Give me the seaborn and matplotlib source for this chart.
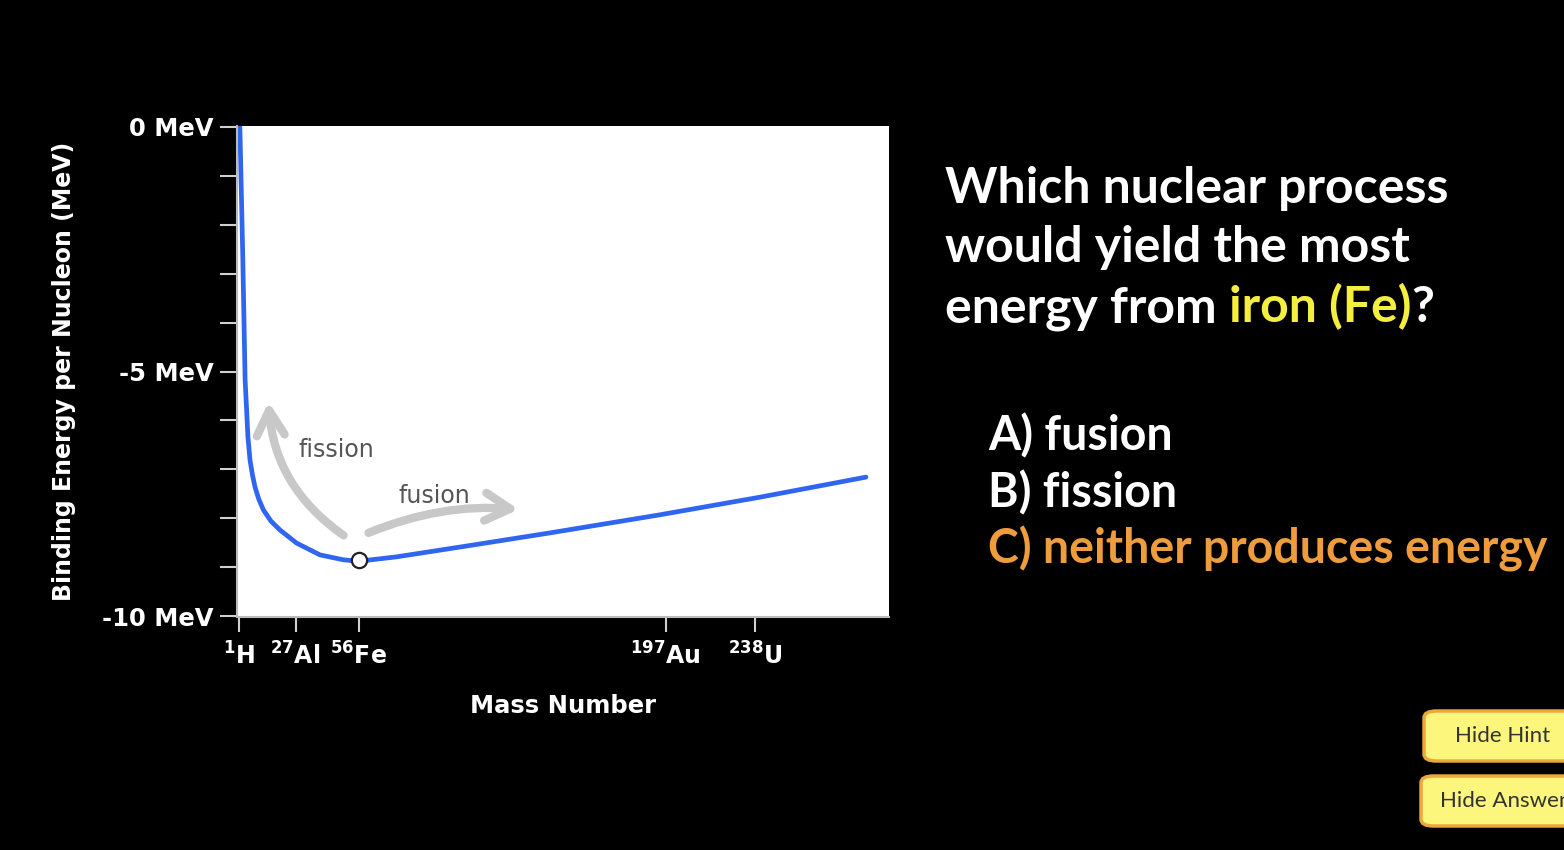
import matplotlib
matplotlib.use("Agg")
import matplotlib.pyplot as plt
from matplotlib.patches import FancyBboxPatch
import pandas as pd
import seaborn as sns

W, H = 1564, 850

# binding energy curve
mass_number = [1.4, 2.7, 3.8, 4.5, 5.1, 6.05, 7.2, 8.35, 10.0, 12.2, 15.7,
               19.8, 27.5, 38.2, 48.9, 56, 73.4, 103.9, 143.9, 194.4, 240.3, 289]
binding_energy = [0.0, -2.58, -5.17, -5.79, -6.34, -6.81, -7.12, -7.36, -7.6,
                  -7.83, -8.06, -8.24, -8.51, -8.75, -8.85, -8.88, -8.79,
                  -8.58, -8.30, -7.93, -7.57, -7.16]
iron_mass = 56
iron_energy = -8.86

tick_masses = [1, 27, 56, 197, 238]
tick_labels = [r"$^{1}$H", r"$^{27}$Al", r"$^{56}$Fe", r"$^{197}$Au", r"$^{238}$U"]
energy_ticks = list(range(0, -11, -1))
energy_labels = {0: "0 MeV", -5: "-5 MeV", -10: "-10 MeV"}

question_lines = ["Which nuclear process", "would yield the most"]
question_last = [("energy from", "white"), ("iron (Fe)", "#f4ef3e"), ("?", "white")]
options = ["A) fusion", "B) fission", "C) neither produces energy"]
option_colors = ["white", "white", "#ef9d3c"]
buttons = ["Hide Hint", "Hide Answer"]

sns.set_theme(style="white")
plt.rcParams["mathtext.default"] = "bf"

fig = plt.figure(figsize=(W / 100, H / 100), dpi=100, facecolor="black")
ax = fig.add_axes([237 / W, 1 - 617 / H, 652 / W, 491 / H])
ax.set_facecolor("white")

df = pd.DataFrame({"A": mass_number, "E": binding_energy})
sns.lineplot(data=df, x="A", y="E", ax=ax, color="#3066ef", linewidth=3.4,
             sort=False, estimator=None)
ax.plot([iron_mass], [iron_energy], marker="o", ms=11, mfc="white",
        mec="#222222", mew=1.6, zorder=5)

# fission / fusion arrows
arrow_kw = dict(arrowstyle="->,head_length=0.9,head_width=0.5", color="#c8c8c8",
                lw=6, mutation_scale=20, shrinkA=0, shrinkB=0,
                capstyle="round", joinstyle="round")
ax.annotate("", xy=(14.6, -5.62), xytext=(49.0, -8.35),
            arrowprops=dict(connectionstyle="arc3,rad=-0.24", **arrow_kw))
ax.annotate("", xy=(129.5, -7.82), xytext=(60.5, -8.3),
            arrowprops=dict(connectionstyle="arc3,rad=-0.12", **arrow_kw))
ax.text(45.6, -6.6, "fission", color="#555555", fontsize=17,
        ha="center", va="center")
ax.text(90.6, -7.55, "fusion", color="#555555", fontsize=17,
        ha="center", va="center")

ax.set_xlim(0.08, 299.6)
ax.set_ylim(-10.02, 0.02)
ax.set_xticks(tick_masses)
ax.set_xticklabels(tick_labels)
ax.set_yticks(energy_ticks)
ax.set_yticklabels([energy_labels.get(t, "") for t in energy_ticks])
ax.tick_params(axis="both", colors="#d0d0d0", labelcolor="white", width=1.5,
               direction="out")
ax.tick_params(axis="y", length=12, pad=5, left=True, labelsize=17.5)
ax.tick_params(axis="x", length=11, pad=7, bottom=True, labelsize=17)
for lab in ax.get_xticklabels() + ax.get_yticklabels():
    lab.set_fontweight("bold")

for side in ["top", "right"]:
    ax.spines[side].set_visible(False)
for side in ["left", "bottom"]:
    ax.spines[side].set_color("#bbbbbb")
    ax.spines[side].set_linewidth(1.5)

ax.set_xlabel("Mass Number", color="white", fontsize=17.5, fontweight="bold")
ax.set_ylabel("Binding Energy per Nucleon (MeV)", color="white",
              fontsize=17, fontweight="bold")
ax.xaxis.set_label_coords(0.5, -0.157)
ax.yaxis.set_label_coords(-0.247, 0.5)

# question text on the right
qfont = dict(family="Lato", fontweight="bold", fontsize=36)
ofont = dict(family="Lato", fontweight="bold", fontsize=33.5)
for i, line in enumerate(question_lines):
    fig.text(945 / W, 1 - (203 + i * 59.5) / H, line, color="white",
             va="baseline", **qfont)

renderer = fig.canvas.get_renderer()
probe1 = fig.text(0, 0, "x x", **qfont)
probe2 = fig.text(0, 0, "xx", **qfont)
space_w = (probe1.get_window_extent(renderer).width
           - probe2.get_window_extent(renderer).width)
probe1.remove()
probe2.remove()

x = 945
for k, (part, color) in enumerate(question_last):
    t = fig.text(x / W, 1 - 322 / H, part, color=color, va="baseline", **qfont)
    x += t.get_window_extent(renderer).width
    if k == 0:
        x += space_w

for i, (opt, color) in enumerate(zip(options, option_colors)):
    fig.text(988 / W, 1 - (450 + i * 57) / H, opt, color=color,
             va="baseline", **ofont)

# buttons at the bottom right
for i, label in enumerate(buttons):
    x0 = 1424 - 3 * i
    y0 = 711 + 65 * i
    box = FancyBboxPatch((x0 / W, 1 - (y0 + 50) / H), 200 / W, 50 / H,
                         boxstyle="round,pad=0,rounding_size=0.008",
                         transform=fig.transFigure, facecolor="#fdf67c",
                         edgecolor="#eba83a", linewidth=2.5)
    fig.patches.append(box)
    if i == 0:
        fig.text(1503 / W, 1 - (y0 + 25) / H, label, color="#333333",
                 family="Lato", fontsize=16, ha="center", va="center")
    else:
        fig.text(1440 / W, 1 - (y0 + 25) / H, label, color="#333333",
                 family="Lato", fontsize=16, ha="left", va="center")

fig.savefig("out.png", dpi=100, facecolor="black")
